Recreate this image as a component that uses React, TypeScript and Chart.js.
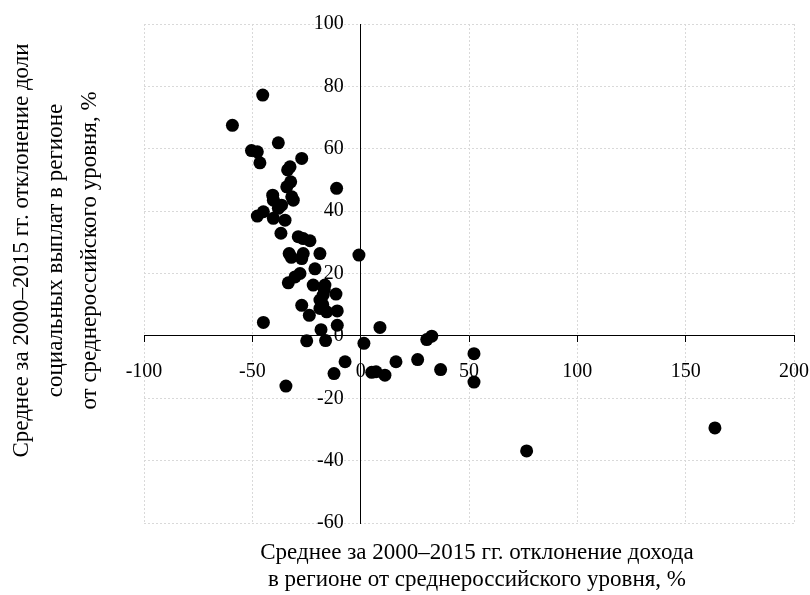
import React, { useEffect, useRef } from "react";
import { Chart, registerables } from "chart.js";

Chart.register(...registerables);

// Income deviation from Russian average, % (x)
const incomeDeviation = [
  -45.2, -59.2, -38.0, -50.4, -47.7, -46.5, -27.2, -33.7, -32.6, -32.3,
  -34.1, -11.1, -40.6, -40.3, -31.8, -31.1, -36.5, -38.0, -44.9, -47.7,
  -40.3, -34.9, -36.8, -28.8, -26.5, -23.4, -33.0, -26.5, -27.2, -18.8,
  -0.8, -21.1, -28.0, -30.3, -33.4, -21.9, -16.5, -17.3, -11.4, -18.8,
  -27.2, -23.7, -18.8, -15.7, -10.8, -10.8, -18.3, -24.9, -16.2, -44.9,
  8.9, 1.5, 30.5, 32.8, -7.2, 16.3, 26.3, 36.9, -12.3, 5.1,
  7.1, 11.2, -34.5, 52.3, 52.3, 76.6, 163.5, -16.8, -17.5, -32.0,
];

// Social payments share deviation from Russian average, % (y)
const socialShareDeviation = [
  77.2, 67.5, 61.9, 59.4, 59.0, 55.5, 56.9, 53.2, 54.2, 49.4,
  47.8, 47.3, 45.1, 43.5, 44.6, 43.5, 41.9, 40.9, 39.8, 38.4,
  37.7, 37.1, 32.9, 31.8, 31.2, 30.5, 26.4, 26.4, 24.8, 26.4,
  25.9, 21.5, 20.0, 18.9, 17.0, 16.3, 16.3, 13.1, 13.4, 11.5,
  9.8, 6.6, 8.8, 7.7, 8.0, 3.4, 2.0, -1.6, -1.5, 4.3,
  2.7, -2.4, -1.2, -0.1, -8.3, -8.3, -7.6, -10.8, -12.1, -11.7,
  -11.5, -12.6, -16.1, -5.7, -14.8, -36.9, -29.5, 14.8, 10.0, 25.2,
];

const xMin = -100;
const xMax = 200;
const xStep = 50;
const yMin = -60;
const yMax = 100;
const yStep = 20;

const xTitle = [
  "Среднее за 2000–2015 гг. отклонение дохода",
  "в регионе от среднероссийского уровня, %",
];
const yTitle = [
  "Среднее за 2000–2015 гг. отклонение доли",
  "социальных выплат в регионе",
  "от среднероссийского уровня, %",
];

const FONT = '"Liberation Serif", "Times New Roman", serif';
const Y_LABEL_GAP = 17;

const zeroPadding = (scale: any) => {
  scale.paddingLeft = 0;
  scale.paddingRight = 0;
  scale.paddingTop = 0;
  scale.paddingBottom = 0;
};

const yLabelShiftPlugin = {
  id: "yLabelShift",
  beforeDraw(chart: any) {
    const scale = chart.scales.y2;
    if (!scale || typeof scale._computeLabelItems !== "function") return;
    const items = scale._computeLabelItems(chart.chartArea);
    items.forEach((it: any) => {
      const t = it.options.translation;
      it.options.translation = [t[0] - Y_LABEL_GAP, t[1]];
    });
    scale._labelItems = items;
  },
};

const titlesPlugin = {
  id: "axisTitles",
  afterDraw(chart: any) {
    const { ctx, chartArea } = chart;
    ctx.save();
    ctx.fillStyle = "#000";
    ctx.font = `23px ${FONT}`;
    ctx.textAlign = "center";
    ctx.textBaseline = "middle";
    const cx = (chartArea.left + chartArea.right) / 2 + 8;
    xTitle.forEach((line, i) => {
      ctx.fillText(line, cx, chartArea.bottom + 30 + i * 27);
    });
    const cy = (chartArea.top + chartArea.bottom) / 2 - 23;
    yTitle.forEach((line, i) => {
      ctx.save();
      ctx.translate(chartArea.left - 122 + i * 34, cy);
      ctx.rotate(-Math.PI / 2);
      ctx.fillText(line, 0, 0);
      ctx.restore();
    });
    ctx.restore();
  },
};

export default function App() {
  const canvasRef = useRef<HTMLCanvasElement | null>(null);

  useEffect(() => {
    if (!canvasRef.current) return;
    const points = incomeDeviation.map((x, i) => ({ x, y: socialShareDeviation[i] }));
    const chart = new Chart(canvasRef.current, {
      type: "scatter",
      data: {
        datasets: [
          {
            data: points,
            backgroundColor: "#000",
            borderColor: "#000",
            borderWidth: 0,
            pointRadius: 6.5,
            pointHoverRadius: 6.5,
            xAxisID: "x",
            yAxisID: "y",
          },
        ],
      },
      options: {
        animation: false,
        responsive: true,
        maintainAspectRatio: false,
        layout: { padding: { left: 144, right: 16, top: 24, bottom: 72 } },
        plugins: { legend: { display: false }, tooltip: { enabled: false } },
        scales: {
          x: {
            type: "linear",
            position: "bottom",
            min: xMin,
            max: xMax,
            ticks: { display: false, stepSize: xStep },
            grid: { color: "#d9d9d9", lineWidth: 1, drawTicks: false },
            border: { display: false, dash: [2, 2] },
            afterFit: zeroPadding,
          },
          y: {
            type: "linear",
            position: "left",
            min: yMin,
            max: yMax,
            ticks: { display: false, stepSize: yStep },
            grid: { color: "#d9d9d9", lineWidth: 1, drawTicks: false },
            border: { display: false, dash: [2, 2] },
            afterFit: zeroPadding,
          },
          x2: {
            type: "linear",
            axis: "x",
            position: { y: 0 },
            min: xMin,
            max: xMax,
            ticks: {
              stepSize: xStep,
              color: "#000",
              padding: 18,
              maxRotation: 0,
              font: { family: FONT, size: 20 },
            },
            grid: {
              display: true,
              drawOnChartArea: false,
              drawTicks: true,
              tickLength: 6,
              tickColor: "#000",
              color: "#000",
            },
            border: { display: true, color: "#000", width: 1 },
            afterFit: zeroPadding,
          },
          y2: {
            type: "linear",
            axis: "y",
            position: { x: 0 },
            min: yMin,
            max: yMax,
            ticks: {
              stepSize: yStep,
              color: "#000",
              padding: 0,
              font: { family: FONT, size: 20 },
            },
            grid: { display: false, drawTicks: false },
            border: { display: true, color: "#000", width: 1 },
            afterFit: zeroPadding,
          },
        } as any,
      },
      plugins: [yLabelShiftPlugin, titlesPlugin],
    });
    return () => chart.destroy();
  }, []);

  return (
    <div style={{ position: "fixed", left: 0, top: 0, width: 810, height: 595, background: "#fff" }}>
      <canvas ref={canvasRef} />
    </div>
  );
}
